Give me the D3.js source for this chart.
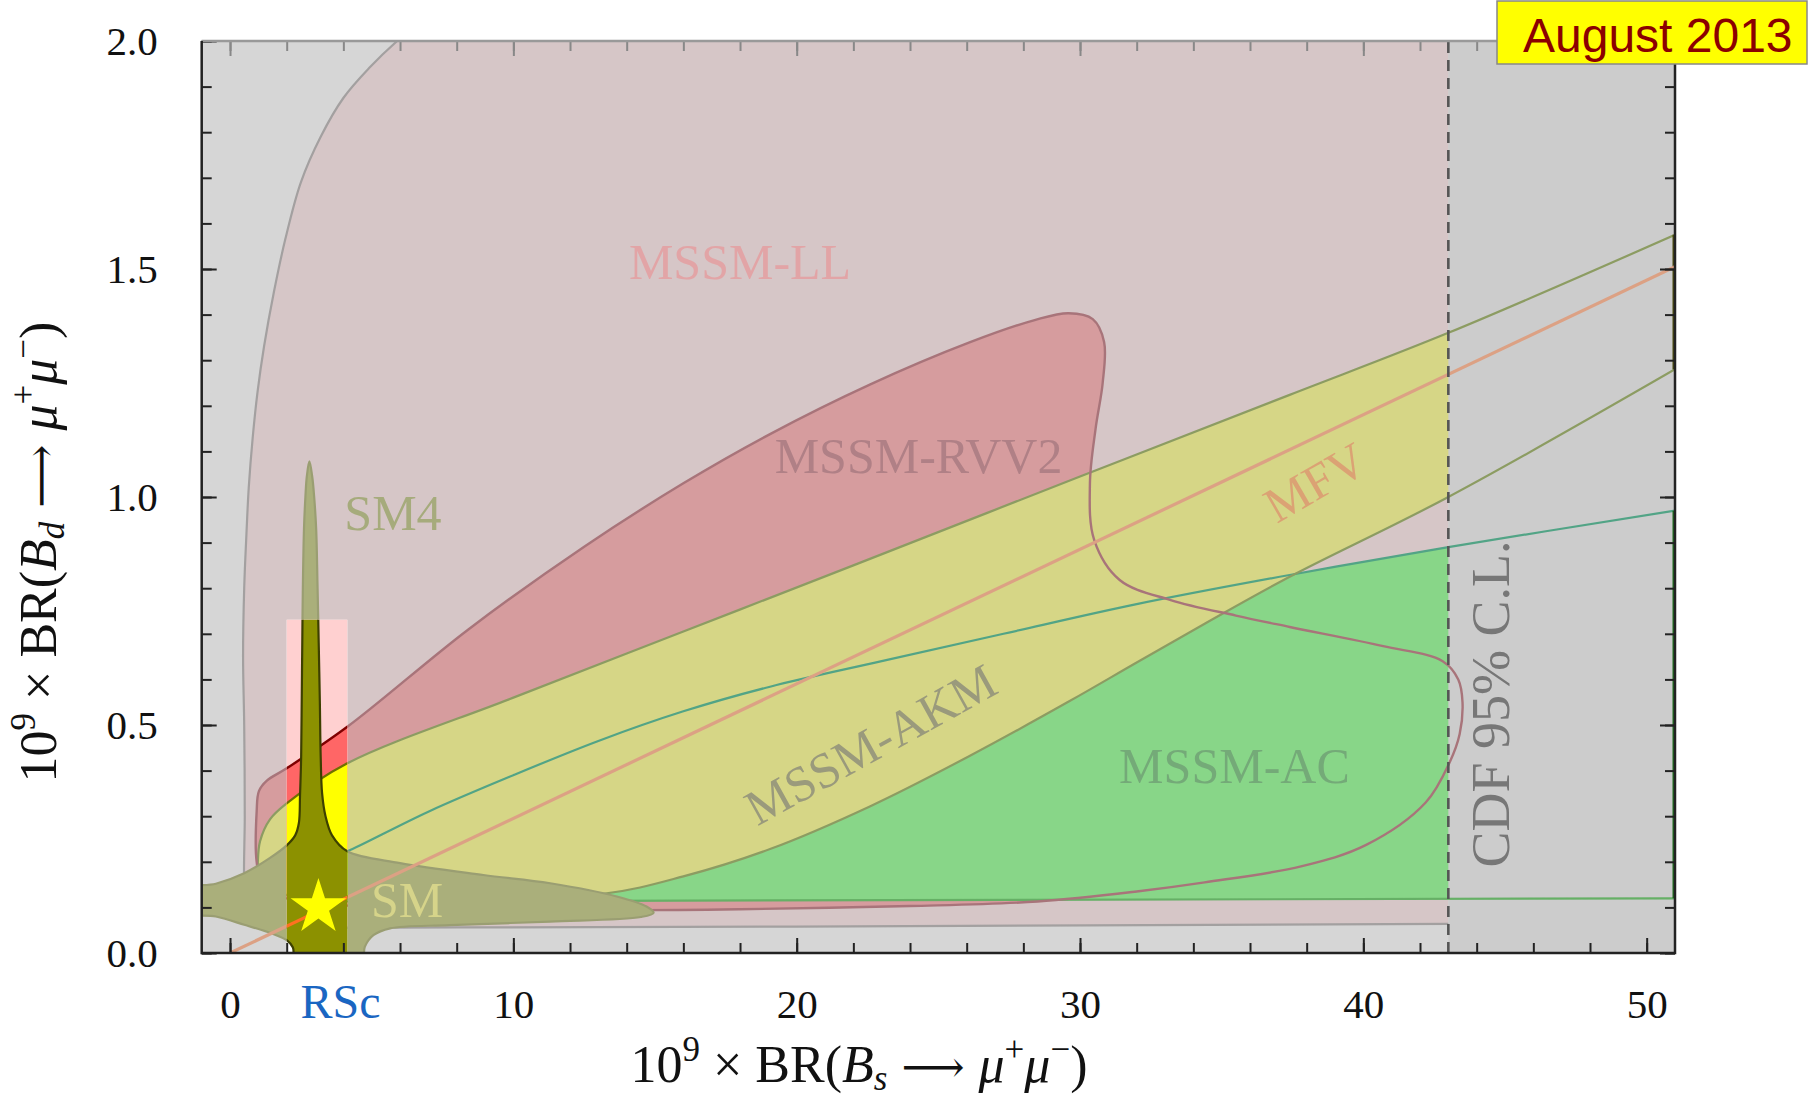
<!DOCTYPE html>
<html>
<head>
<meta charset="utf-8">
<script src="https://cdn.jsdelivr.net/npm/d3@7"></script>
<style>
  body { margin: 0; background: #fff; }
  svg { display: block; }
  text { font-family: "Liberation Serif", "Times New Roman", serif; }
</style>
</head>
<body>
<div id="chart"></div>
<script>
// ---- data (x = 10^9 BR(Bs), y = 10^9 BR(Bd)) ----
const xTicks = [0, 10, 20, 30, 40, 50];
const yTicks = [0, 0.5, 1.0, 1.5, 2.0];
const rscBand = [2.0, 4.14];
const rscTop = 0.731;
const cdfLimit = 43;
const smPoint = [3.12, 0.10];
const mfvLine = [[0, 0], [51, 1.505]];

const llLeft = [[1.0, 0.055], [0.6, 0.08], [0.5, 0.15], [0.52, 0.3], [0.5, 0.5], [0.46, 0.65], [0.5, 0.8],
  [0.58, 0.92], [0.66, 1.02], [0.8, 1.13], [0.97, 1.23], [1.2, 1.33], [1.55, 1.45], [1.95, 1.565],
  [2.5, 1.69], [3.2, 1.79], [4.0, 1.875], [4.9, 1.94], [5.9, 2.0], [6.9, 2.05]];
const llBottom = [[1.0, 0.055], [8, 0.056], [20, 0.058], [43, 0.064]];

const rvvRing = [[0.94, 0.20], [0.94, 0.31], [1.02, 0.355], [1.3, 0.378], [2.0, 0.405], [4.14, 0.496],
  [8.4, 0.709], [12.5, 0.891], [16.0, 1.03], [19.06, 1.138], [22.6, 1.247], [26.1, 1.339],
  [28.4, 1.388], [29.6, 1.403], [30.45, 1.39], [30.85, 1.34], [30.8, 1.25], [30.55, 1.15],
  [30.35, 1.03], [30.5, 0.906], [31.4, 0.818], [33.2, 0.774], [35.5, 0.740], [37.4, 0.715],
  [40.7, 0.673], [42.8, 0.64], [43.35, 0.60], [43.5, 0.55], [43.4, 0.48], [43.06, 0.42], [42.2, 0.33],
  [40.1, 0.237], [37.8, 0.19], [34.4, 0.155], [32.0, 0.135], [28.5, 0.113], [24, 0.103],
  [18, 0.096], [14, 0.094], [8, 0.098], [3, 0.11], [1.2, 0.14]];

const akmUpper = [[1.0, 0.13], [0.98, 0.197], [1.06, 0.245], [1.41, 0.293], [2.0, 0.328], [4.14, 0.416],
  [10, 0.56], [16, 0.705], [22, 0.85], [30, 1.045], [37.4, 1.224], [43, 1.36], [51, 1.575]];
const akmLower = [[51, 1.28], [43, 1.0], [37.4, 0.825], [34.4, 0.722], [32.0, 0.637], [29.65, 0.553],
  [26.1, 0.432], [22.6, 0.322], [19.06, 0.228], [16.0, 0.168], [13.18, 0.13], [8, 0.125], [3, 0.125]];

const acUpper = [[3.6, 0.21], [4.14, 0.223], [7, 0.31], [10, 0.39], [13, 0.465], [16, 0.53],
  [19.06, 0.584], [23, 0.64], [27.3, 0.70], [32, 0.765], [37.4, 0.829], [43, 0.89], [51, 0.97]];
const acLower = [[51, 0.12], [3.6, 0.113]];

const sm4Ring = [[2.80, 1.078], [2.90, 1.045], [2.97, 1.0], [3.04, 0.93], [3.09, 0.80], [3.13, 0.68],
  [3.17, 0.55], [3.20, 0.43], [3.25, 0.35], [3.37, 0.30], [3.6, 0.258], [4.14, 0.223], [6.0, 0.197],
  [8.94, 0.171], [11.3, 0.153], [13.65, 0.124], [14.7, 0.102], [14.95, 0.088], [14.5, 0.079],
  [11.3, 0.069], [7.76, 0.061], [5.65, 0.054], [5.06, 0.039], [4.76, 0.014], [4.62, -0.03],
  [2.32, -0.03], [2.22, 0.012], [2.0, 0.028], [1.5, 0.042], [0.5, 0.062], [-0.5, 0.08], [-1.6, 0.09],
  [-1.6, 0.14], [-0.5, 0.152], [0.5, 0.175], [1.4, 0.208], [2.0, 0.236], [2.3, 0.258], [2.43, 0.285],
  [2.47, 0.345], [2.51, 0.43], [2.53, 0.55], [2.55, 0.68], [2.57, 0.80], [2.61, 0.93], [2.66, 1.0],
  [2.71, 1.045]];

// labels: [text, x, y, rotation, colour]
const regionLabels = [
  ["MSSM-LL", 18.0, 1.477, 0, "#e2a4a6"],
  ["MSSM-RVV2", 24.3, 1.053, 0, "#b08086"],
  ["SM4", 5.75, 0.928, 0, "#a6ab7c"],
  ["SM", 6.25, 0.080, 0, "#d6d48a"],
  ["MSSM-AKM", 22.9, 0.425, -29, "#9a9a7c"],
  ["MFV", 38.6, 1.00, -30, "#dba274"],
  ["MSSM-AC", 35.45, 0.372, 0, "#74aa78"]
];

const faded = {
  bg: "#d6d6d6", excl: "#cccccc", ll: "#d6c6c7", llLine: "#a3a0a0",
  rvv: "#d69c9e", rvvLine: "#a8747a", ac: "#88d688", acTop: "#52a486", acBot: "#66b066", acEdge: "#1f6a1f",
  akm: "#d6d686", akmLine: "#8c9c62", akmEdge: "#4a4a10", sm4: "#aaaf7b", sm4Line: "#9a9e72",
  mfv: "#dca184", star: "#ffff00"
};
const vivid = {
  bg: "#ffffff", excl: "#dddddd", ll: "#ffd0d0", llLine: "#888888",
  rvv: "#ff6666", rvvLine: "#800000", ac: "#00e000", acTop: "#008866", acBot: "#009900", acEdge: "#005500",
  akm: "#ffff00", akmLine: "#707000", akmEdge: "#4a4a10", sm4: "#8c9100", sm4Line: "#3d4000",
  mfv: "#ff7020", star: "#ffff00"
};

// ---- layout ----
const W = 1809, H = 1101;
const x = d3.scaleLinear().domain([-1, 51]).range([201.7, 1675]);
const y = d3.scaleLinear().domain([0, 2]).range([953, 41]);

const svg = d3.select("#chart").append("svg").attr("width", W).attr("height", H);
const defs = svg.append("defs");
defs.append("clipPath").attr("id", "plotClip").append("rect")
  .attr("x", x(-1)).attr("y", y(2)).attr("width", x(51) - x(-1)).attr("height", y(0) - y(2));
defs.append("clipPath").attr("id", "bandClip").append("rect")
  .attr("x", x(rscBand[0])).attr("y", y(rscTop))
  .attr("width", x(rscBand[1]) - x(rscBand[0])).attr("height", y(0) - y(rscTop));

const smooth = d3.line().x(d => x(d[0])).y(d => y(d[1])).curve(d3.curveCatmullRom.alpha(0.5));
const ring = d3.line().x(d => x(d[0])).y(d => y(d[1])).curve(d3.curveCatmullRomClosed.alpha(0.5));
const straight = d3.line().x(d => x(d[0])).y(d => y(d[1]));

function joinPaths(parts) {
  return parts.map((p, i) => i ? p.replace(/^M/, "L") : p).join("") + "Z";
}

function drawScene(g, pal) {
  g.append("rect").attr("x", x(-1)).attr("y", y(2)).attr("width", x(51) - x(-1))
    .attr("height", y(0) - y(2)).attr("fill", pal.bg);

  let llPath = joinPaths([smooth(llLeft), straight([[6.9, 2.1], [cdfLimit, 2.1], [cdfLimit, 0.064]]),
    smooth(llBottom.slice().reverse())]);
  g.append("path").attr("d", llPath).attr("fill", pal.ll);
  g.append("path").attr("d", ring(rvvRing)).attr("fill", pal.rvv);
  g.append("path").attr("d", joinPaths([smooth(acUpper), straight(acLower)])).attr("fill", pal.ac);
  g.append("path").attr("d", joinPaths([smooth(akmUpper), smooth(akmLower)])).attr("fill", pal.akm);

  g.append("rect").attr("x", x(cdfLimit)).attr("y", y(2)).attr("width", x(51) - x(cdfLimit))
    .attr("height", y(0) - y(2)).attr("fill", pal.excl);

  // outlines
  g.append("path").attr("d", smooth(llLeft)).attr("fill", "none").attr("stroke", pal.llLine).attr("stroke-width", 2.2);
  g.append("path").attr("d", smooth(llBottom)).attr("fill", "none").attr("stroke", pal.llLine).attr("stroke-width", 2.2);
  g.append("path").attr("d", smooth(acUpper)).attr("fill", "none").attr("stroke", pal.acTop).attr("stroke-width", 2.2);
  g.append("path").attr("d", straight(acLower)).attr("fill", "none").attr("stroke", pal.acBot).attr("stroke-width", 2.2);
  g.append("path").attr("d", straight([acUpper[acUpper.length - 1], acLower[0]]))
    .attr("stroke", pal.acEdge).attr("stroke-width", 5);
  g.append("path").attr("d", joinPaths([smooth(akmUpper), smooth(akmLower)])).attr("fill", "none")
    .attr("stroke", pal.akmLine).attr("stroke-width", 2.2);
  g.append("path").attr("d", straight([akmUpper[akmUpper.length - 1], akmLower[0]]))
    .attr("stroke", pal.akmEdge).attr("stroke-width", 5);
  g.append("path").attr("d", ring(rvvRing)).attr("fill", "none").attr("stroke", pal.rvvLine).attr("stroke-width", 2.4);

  g.append("path").attr("d", ring(sm4Ring)).attr("fill", pal.sm4).attr("stroke", pal.sm4Line).attr("stroke-width", 2.2);
  g.append("path").attr("d", straight(mfvLine)).attr("stroke", pal.mfv).attr("stroke-width", 3.2);

  g.append("path").attr("d", d3.symbol(d3.symbolStar, 964)())
    .attr("transform", `translate(${x(smPoint[0])},${y(smPoint[1])})`).attr("fill", pal.star);
}

const fadedLayer = svg.append("g").attr("clip-path", "url(#plotClip)");
drawScene(fadedLayer, faded);

fadedLayer.selectAll("text.region").data(regionLabels).enter().append("text")
  .attr("class", "region")
  .attr("transform", d => `translate(${x(d[1])},${y(d[2])}) rotate(${d[3]})`)
  .attr("text-anchor", "middle")
  .attr("font-size", 50)
  .attr("fill", d => d[4])
  .text(d => d[0]);

fadedLayer.append("text")
  .attr("transform", `translate(${x(cdfLimit) + 61},${y(0.546)}) rotate(-90)`)
  .attr("text-anchor", "middle").attr("font-size", 54).attr("fill", "#777")
  .text("CDF 95% C.L.");

const vividLayer = svg.append("g").attr("clip-path", "url(#bandClip)");
drawScene(vividLayer, vivid);

// CDF limit
svg.append("line").attr("x1", x(cdfLimit)).attr("x2", x(cdfLimit)).attr("y1", y(0)).attr("y2", y(2))
  .attr("stroke", "#555").attr("stroke-width", 2.6).attr("stroke-dasharray", "11,7");

// ---- axes ----
function styleAxis(g, colour) {
  g.select(".domain").remove();
  g.selectAll(".tick line").attr("stroke", colour).attr("stroke-width", 2);
  g.selectAll(".tick text").style("font-family", "Liberation Serif, serif").attr("font-size", 41).attr("fill", "#111");
}
const minorX = d3.range(0, 51, 2);
const minorY = d3.range(0, 21).map(d => d / 10);

svg.append("g").attr("transform", `translate(0,${y(0)})`)
  .call(d3.axisBottom(x).tickValues(minorX).tickSize(-10).tickFormat(""))
  .call(g => styleAxis(g, "#222"));
svg.append("g").attr("transform", `translate(0,${y(0)})`)
  .call(d3.axisBottom(x).tickValues(xTicks).tickSize(-15).tickPadding(36).tickFormat(d3.format("d")))
  .call(g => styleAxis(g, "#222"));
svg.append("g").attr("transform", `translate(0,${y(2)})`)
  .call(d3.axisTop(x).tickValues(minorX).tickSize(-10).tickFormat(""))
  .call(g => styleAxis(g, "#888"));
svg.append("g").attr("transform", `translate(0,${y(2)})`)
  .call(d3.axisTop(x).tickValues(xTicks).tickSize(-15).tickFormat(""))
  .call(g => styleAxis(g, "#888"));

svg.append("g").attr("transform", `translate(${x(-1)},0)`)
  .call(d3.axisLeft(y).tickValues(minorY).tickSize(-10).tickFormat(""))
  .call(g => styleAxis(g, "#222"));
svg.append("g").attr("transform", `translate(${x(-1)},0)`)
  .call(d3.axisLeft(y).tickValues(yTicks).tickSize(-15).tickPadding(44).tickFormat(d3.format(".1f")))
  .call(g => styleAxis(g, "#222"));
svg.append("g").attr("transform", `translate(${x(51)},0)`)
  .call(d3.axisRight(y).tickValues(minorY).tickSize(-10).tickFormat(""))
  .call(g => styleAxis(g, "#222"));
svg.append("g").attr("transform", `translate(${x(51)},0)`)
  .call(d3.axisRight(y).tickValues(yTicks).tickSize(-15).tickFormat(""))
  .call(g => styleAxis(g, "#222"));

// frame
svg.append("line").attr("x1", x(-1)).attr("x2", x(51)).attr("y1", y(2)).attr("y2", y(2))
  .attr("stroke", "#999").attr("stroke-width", 2.5);
svg.append("path").attr("d", `M${x(-1)},${y(2)}V${y(0)}H${x(51)}V${y(2)}`)
  .attr("fill", "none").attr("stroke", "#222").attr("stroke-width", 2.5);

// RSc label under the axis
svg.append("text").attr("x", x(3.9)).attr("y", 1018).attr("text-anchor", "middle")
  .attr("font-size", 48).attr("fill", "#1a66c2").text("RSc");

// ---- axis titles ----
function mathText(sel, parts) {
  let shift = 0;
  parts.forEach(([t, kind]) => {
    const want = kind.includes("sup") ? -21 : kind.includes("sub") ? 8 : 0;
    const ts = sel.append("tspan").attr("dy", want - shift).text(t);
    if (kind.includes("sup") || kind.includes("sub")) ts.attr("font-size", 35);
    if (kind.includes("it")) ts.attr("font-style", "italic");
    if (kind.includes("arrow")) ts.style("font-family", "'DejaVu Serif', 'DejaVu Sans', serif").attr("font-size", 44);
    shift = want;
  });
}
const sp = "\u00a0";
const xTitle = [["10", ""], ["9", "sup"], [sp + "×" + sp + "BR(", ""], ["B", "it"], ["s", "sub it"],
  [sp + "⟶" + sp, "arrow"], ["μ", "it"], ["+", "sup"], ["μ", "it"], ["−", "sup"], [")", ""]];
const yTitle = [["10", ""], ["9", "sup"], [sp + "×" + sp + "BR(", ""], ["B", "it"], ["d", "sub it"],
  [sp + "⟶" + sp, "arrow"], ["μ", "it"], ["+", "sup"], ["μ", "it"], ["−", "sup"], [")", ""]];

svg.append("text").attr("x", 859).attr("y", 1082).attr("text-anchor", "middle")
  .attr("font-size", 52).attr("fill", "#111").call(mathText, xTitle);
svg.append("text").attr("transform", "translate(56,552) rotate(-90)").attr("text-anchor", "middle")
  .attr("font-size", 52).attr("fill", "#111").call(mathText, yTitle);

// date box
svg.append("rect").attr("x", 1497).attr("y", 1).attr("width", 310).attr("height", 63)
  .attr("fill", "#ffff00").attr("stroke", "#888").attr("stroke-width", 1.5);
svg.append("text").attr("x", 1523).attr("y", 52)
  .style("font-family", "'Liberation Sans', Arial, sans-serif")
  .attr("font-size", 48).attr("fill", "#8b0000").text("August 2013");
</script>
</body>
</html>
